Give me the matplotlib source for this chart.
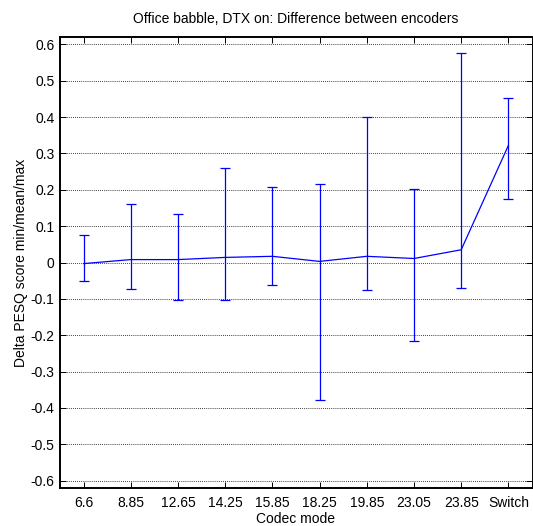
import matplotlib
matplotlib.use("Agg")
import matplotlib.pyplot as plt
import numpy as np

plt.rcParams['font.family'] = ['Liberation Sans', 'DejaVu Sans']

modes = ["6.6", "8.85", "12.65", "14.25", "15.85", "18.25", "19.85", "23.05", "23.85", "Switch"]
mean_vals = [-0.003, 0.008, 0.008, 0.014, 0.017, 0.003, 0.017, 0.011, 0.035, 0.322]
max_vals = [0.075, 0.160, 0.132, 0.260, 0.207, 0.216, 0.400, 0.201, 0.576, 0.452]
min_vals = [-0.052, -0.073, -0.104, -0.104, -0.061, -0.377, -0.076, -0.216, -0.069, 0.174]
yticks = [-0.6, -0.5, -0.4, -0.3, -0.2, -0.1, 0, 0.1, 0.2, 0.3, 0.4, 0.5, 0.6]
ytick_labels = ["-0.6", "-0.5", "-0.4", "-0.3", "-0.2", "-0.1", "0", "0.1", "0.2", "0.3", "0.4", "0.5", "0.6"]

fs = 10
fig = plt.figure(figsize=(5.33, 5.26), dpi=100)
ax = fig.add_axes([60/533, 38/526, 472/533, 451/526])

x = np.arange(1, len(modes) + 1)
mean = np.array(mean_vals)
lo = mean - np.array(min_vals)
hi = np.array(max_vals) - mean
ax.errorbar(x, mean, yerr=[lo, hi], color='#0000ff', lw=0.9, elinewidth=0.9,
            capsize=3.3, capthick=0.9, zorder=3)

ax.set_xlim(0.5, 10.5)
ax.set_ylim(-0.62, 0.62)
ax.set_xticks(x)
ax.set_xticklabels(modes, fontsize=fs)
ax.set_yticks(yticks)
ax.set_yticklabels(ytick_labels, fontsize=fs)
ax.yaxis.grid(True, linestyle=(0, (1, 1.5)), color='black', lw=0.6)
ax.tick_params(direction='in', top=True, right=True, length=4, width=0.7, pad=4)
ax.tick_params(axis='x', pad=6)
for s in ['left', 'bottom', 'top']:
    ax.spines[s].set_linewidth(1.4)
ax.spines['right'].set_linewidth(0.7)

ax.set_title("Office babble, DTX on: Difference between encoders", fontsize=fs, pad=10)
ax.set_xlabel("Codec mode", fontsize=fs, labelpad=1)
ax.set_ylabel("Delta PESQ score min/mean/max", fontsize=fs, labelpad=2)

fig.savefig("out.png", dpi=100)
